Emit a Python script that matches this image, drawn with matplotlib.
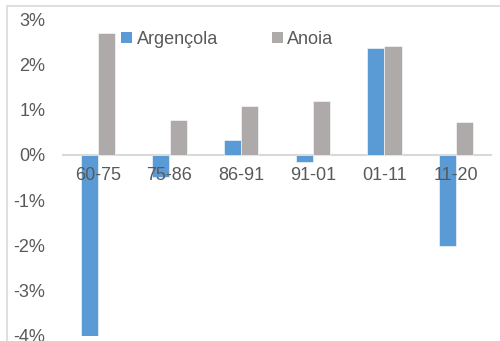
import matplotlib
matplotlib.use("Agg")
import matplotlib.pyplot as plt
from matplotlib.patches import Rectangle, Patch
from matplotlib.ticker import FuncFormatter
import numpy as np

categories = ["60-75", "75-86", "86-91", "91-01", "01-11", "11-20"]
argencola = [-4.0, -0.49, 0.33, -0.15, 2.37, -2.02]
anoia = [2.69, 0.77, 1.08, 1.19, 2.41, 0.73]
series_names = ["Argençola", "Anoia"]
yticks = [-4, -3, -2, -1, 0, 1, 2, 3]

plt.rcParams['font.family'] = ['Liberation Sans', 'DejaVu Sans']
blue = "#5B9BD5"
grey = "#AEAAAA"
txt = "#595959"
fs = 13

fig = plt.figure(figsize=(5.0, 3.41), dpi=100)
fig.patches.append(Rectangle((7/500, -0.1), 1.1, 1 - 6/341 + 0.1, transform=fig.transFigure,
                             fill=False, edgecolor="#d9d9d9", linewidth=1.2))
ax = fig.add_axes([62/500, 1 - 336/341, 430/500, (336 - 19)/341])

x = np.arange(len(categories))
w = 0.24
ax.bar(x - w/2, argencola, w, color=blue, edgecolor="white", linewidth=0.4, label=series_names[0], zorder=2)
ax.bar(x + w/2, anoia, w, color=grey, edgecolor="white", linewidth=0.4, label=series_names[1], zorder=2)

ax.set_xlim(-0.5, len(categories) - 0.5)
ax.set_ylim(-4, 3)
ax.axhline(0, color="#d9d9d9", linewidth=1.5, zorder=1)
for s in ax.spines.values():
    s.set_visible(False)

ax.set_yticks(yticks)
ax.yaxis.set_major_formatter(FuncFormatter(lambda v, p: f"{int(round(v))}%"))
ax.tick_params(axis="y", length=0, pad=12, labelsize=fs, labelcolor=txt)
ax.set_xticks([])
for xi, c in zip(x, categories):
    ax.text(xi, -0.27, c, ha="center", va="top", fontsize=fs, color=txt, zorder=3)

handles = [Patch(facecolor=blue), Patch(facecolor=grey)]
leg = ax.legend(handles, series_names, loc="upper left", bbox_to_anchor=(0.121, 0.985), ncol=2,
                frameon=False, fontsize=fs, handlelength=0.6, handleheight=0.6,
                handletextpad=0.25, columnspacing=3.0, borderaxespad=0)
for t in leg.get_texts():
    t.set_color(txt)

fig.savefig("out.png", dpi=100)
